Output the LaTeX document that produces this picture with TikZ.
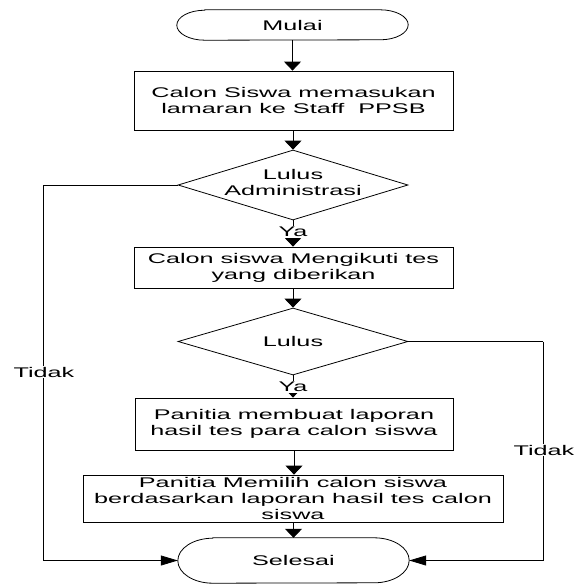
\documentclass[tikz,border=0pt]{standalone}
\usepackage{fontspec}
\setmainfont{Liberation Sans}[FakeStretch=1.8]
\usetikzlibrary{arrows.meta,shapes.geometric}

\tikzset{
  every node/.style={font=\fontsize{14}{16}\selectfont},
  procbox/.style={draw, rectangle, inner sep=0pt, align=center, line width=0.8pt},
  decision/.style={draw, diamond, inner sep=0pt, line width=0.8pt},
  terminal/.style={rectangle, inner sep=0pt, align=center},
  flow/.style={line width=0.8pt, -{Triangle[length=9pt,width=17pt]}},
  sideflow/.style={line width=0.8pt, -{Triangle[length=17pt,width=10pt]}},
  plain/.style={line width=0.8pt},
  tag/.style={fill=white, inner sep=1pt}
}

% terminal outline: flat top and bottom, elliptic ends
\newcommand{\termoutline}[3]{%
  \draw[line width=0.8pt] ([xshift=#2]#1.north west) -- ([xshift=-#2]#1.north east)
    arc[start angle=90, end angle=-90, x radius=#2, y radius=#3]
    -- ([xshift=#2]#1.south west)
    arc[start angle=270, end angle=90, x radius=#2, y radius=#3] -- cycle;}

\begin{document}
\begin{tikzpicture}[x=1pt, y=1pt]
\useasboundingbox (0,0) rectangle (576,-584);

% nodes
\node[terminal, minimum width=231pt, minimum height=30pt] (start) at (292.5,-25) {Mulai};
\node[procbox, minimum width=319pt, minimum height=59pt] (apply) at (293.5,-100.5)
  {Calon Siswa memasukan\\lamaran ke Staff\ \ PPSB};
\node[decision, minimum width=230pt, minimum height=70pt,
  label={[align=center, yshift=3pt]center:Lulus\\Administrasi}] (admin) at (293,-185) {};
\node[procbox, minimum width=319pt, minimum height=41pt] (test) at (293.5,-267.5)
  {Calon siswa Mengikuti tes\\yang diberikan};
\node[decision, minimum width=230pt, minimum height=67pt,
  label={center:Lulus}] (pass) at (293,-341.5) {};
\node[procbox, minimum width=318pt, minimum height=52pt] (report) at (294,-424)
  {Panitia membuat laporan\\hasil tes para calon siswa};
\node[procbox, minimum width=420pt, minimum height=47pt] (select) at (293,-498.5)
  {Panitia Memilih calon siswa\\berdasarkan laporan hasil tes calon\\siswa};
\node[terminal, minimum width=231pt, minimum height=45pt] (finish) at (293.5,-560.5) {Selesai};

\termoutline{start}{28pt}{15pt}
\termoutline{finish}{35pt}{22.5pt}

% main flow
\draw[flow] (start.south) -- (start.south |- apply.north);
\draw[flow] (apply.south -| admin.north) -- (admin.north);
\draw[flow] (admin.south) -- (admin.south |- test.north);
\draw[flow] (test.south -| pass.north) -- (pass.north);
\draw[flow] (pass.south) -- (pass.south |- report.north);
\draw[flow] (report.south) -- (report.south |- select.north);
\draw[flow] (select.south -| finish.north) -- (finish.north);

% rejection branches
\coordinate (leftcorner) at (43,-185);
\coordinate (rightcorner) at (543,-341.5);
\draw[plain] (admin.west) -- (leftcorner);
\draw[sideflow] (leftcorner) |- (finish.west);
\draw[plain] (pass.east) -- (rightcorner);
\draw[sideflow] (rightcorner) |- (finish.east);

% branch labels
\node[tag] (ya1) at (293,-232) {Ya};
\node[tag] (ya2) at (293,-387) {Ya};
\node[tag] (no1) at (44,-372) {Tidak};
\node[tag] (no2) at (544,-450) {Tidak};
\end{tikzpicture}
\end{document}
